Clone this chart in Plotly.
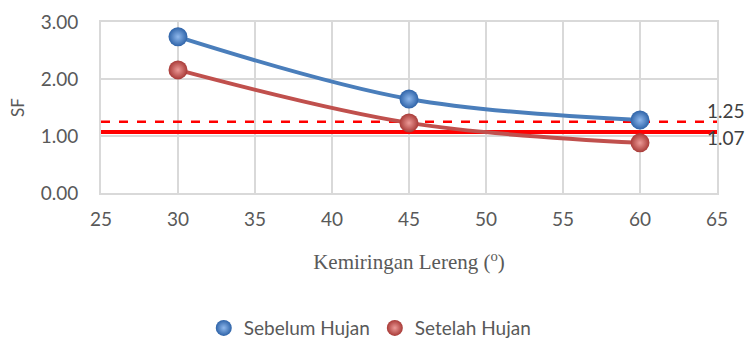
import plotly.graph_objects as go

# Slope angle (degrees) and factor of safety values
kemiringan = [30, 45, 60]
sf_sebelum = [2.74, 1.65, 1.28]
sf_setelah = [2.16, 1.23, 0.88]

# Reference safety thresholds
batas_atas = 1.25
batas_bawah = 1.07
x_range = [25, 65]

FONT = "Lato"
GRID = "#d9d9d9"
TXT = "#595959"

fig = go.Figure()

fig.add_trace(go.Scatter(
    x=x_range, y=[batas_atas, batas_atas], mode="lines",
    line=dict(color="#ff0000", width=2.5, dash="dash"),
    showlegend=False, hoverinfo="skip"))
fig.add_trace(go.Scatter(
    x=x_range, y=[batas_bawah, batas_bawah], mode="lines",
    line=dict(color="#ff0000", width=4),
    showlegend=False, hoverinfo="skip"))

series = [
    ("Sebelum Hujan", sf_sebelum, "#4a7ebb", "#2e63a8", "#8fb8ec"),
    ("Setelah Hujan", sf_setelah, "#c0504d", "#a83a37", "#ec9a97"),
]
for name, ys, lc, mc, hc in series:
    fig.add_trace(go.Scatter(
        x=kemiringan, y=ys, mode="lines", showlegend=False, hoverinfo="skip",
        line=dict(color=lc, width=4, shape="spline")))
    fig.add_trace(go.Scatter(
        x=kemiringan, y=ys, mode="markers", name=name,
        marker=dict(size=19, color=mc,
                    gradient=dict(type="radial", color=hc),
                    line=dict(width=0))))

for val, dy in [(batas_atas, 11), (batas_bawah, -5)]:
    fig.add_annotation(x=65, y=val, xref="x", yref="y", text=f"{val:.2f}",
                       showarrow=False, xanchor="left", xshift=-12, yshift=dy,
                       font=dict(family=FONT, size=19, color="#404040"))

fig.update_layout(
    width=748, height=341,
    margin=dict(l=101, r=31, t=22, b=148, autoexpand=False),
    paper_bgcolor="white", plot_bgcolor="white",
    font=dict(family=FONT, color=TXT, size=19),
    legend=dict(orientation="h", x=0.495, xanchor="center", xref="container",
                y=0.038, yanchor="middle", yref="container",
                font=dict(family=FONT, size=19, color=TXT),
                itemwidth=30, tracegroupgap=0),
    xaxis=dict(range=x_range, dtick=5, tick0=25, showgrid=True, gridcolor=GRID,
               gridwidth=2, showline=True, linecolor=GRID, linewidth=2, mirror=True,
               zeroline=False, ticks="outside", ticklen=8, tickcolor="rgba(0,0,0,0)",
               tickfont=dict(size=19, color=TXT),
               title=dict(text="Kemiringan Lereng (<sup>o</sup>)", standoff=26,
                          font=dict(family="Liberation Serif", size=21, color=TXT))),
    yaxis=dict(range=[0, 3], dtick=1, tickformat=".2f", showgrid=True, gridcolor=GRID,
               gridwidth=2, showline=True, linecolor=GRID, linewidth=2, mirror=True,
               zeroline=False, ticks="outside", ticklen=17, tickcolor="rgba(0,0,0,0)",
               tickfont=dict(size=19, color=TXT),
               title=dict(text="SF", standoff=12, font=dict(size=17, color=TXT))),
)

fig.write_html("out.html")
